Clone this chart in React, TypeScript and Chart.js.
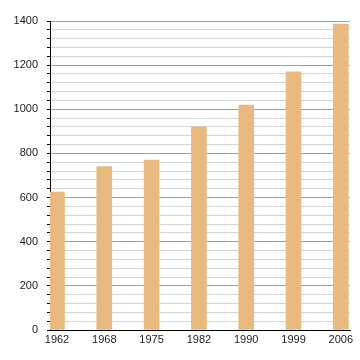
import React, { useEffect, useRef } from "react";
import { Chart, registerables } from "chart.js";

Chart.register(...registerables);

const years: string[] = ["1962", "1968", "1975", "1982", "1990", "1999", "2006"];
const population: number[] = [625, 740, 770, 920, 1019, 1170, 1386];
const yMax = 1400;
const yStep = 40;
const yLabelStep = 200;

export default function App() {
  const ref = useRef<HTMLCanvasElement | null>(null);

  useEffect(() => {
    if (!ref.current) return;
    const chart = new Chart(ref.current, {
      type: "bar",
      data: {
        datasets: [
          {
            data: population.map((v, i) => ({ x: i, y: v })),
            backgroundColor: "#e8ba80",
            borderWidth: 0,
            barThickness: 15,
          },
        ],
      },
      options: {
        responsive: false,
        animation: false,
        events: [],
        layout: { padding: { left: 0, right: 10, top: 21, bottom: 0 } },
        plugins: { legend: { display: false }, tooltip: { enabled: false } },
        scales: {
          x: {
            type: "linear",
            offset: false,
            min: -0.148,
            max: 6.194,
            afterBuildTicks: (scale: any) => {
              scale.ticks = years.map((_, i) => ({ value: i }));
            },
            afterFit: (scale: any) => {
              scale.height = 30;
            },
            ticks: {
              autoSkip: false,
              maxRotation: 0,
              padding: 3,
              color: "#222",
              font: { family: "Liberation Sans, Arial, sans-serif", size: 11 },
              callback: (v: any) => years[Math.round(Number(v))] ?? "",
            },
            grid: { display: false, drawTicks: false, offset: false },
            border: { display: true, color: "#000", width: 1 },
          },
          y: {
            min: 0,
            max: yMax,
            afterBuildTicks: (scale: any) => {
              const t: any[] = [];
              for (let v = 0; v <= yMax; v += yStep) t.push({ value: v });
              scale.ticks = t;
            },
            afterFit: (scale: any) => {
              scale.width = 50;
            },
            ticks: {
              autoSkip: false,
              padding: 9,
              color: "#222",
              font: { family: "Liberation Sans, Arial, sans-serif", size: 11 },
              callback: (v: any) => (Number(v) % yLabelStep === 0 ? String(v) : ""),
            },
            grid: {
              color: (ctx: any) =>
                ctx.tick && ctx.tick.value % yLabelStep === 0 ? "#a0a0a0" : "#d4d4d4",
              tickColor: "#000",
              tickLength: 3,
              lineWidth: 1,
            },
            border: { display: true, color: "#000", width: 1 },
          },
        },
      },
    });
    return () => chart.destroy();
  }, []);

  return (
    <div style={{ position: "fixed", left: 0, top: 0, width: 360, height: 360, background: "#fff" }}>
      <canvas ref={ref} width={360} height={360} style={{ width: 360, height: 360 }} />
    </div>
  );
}
